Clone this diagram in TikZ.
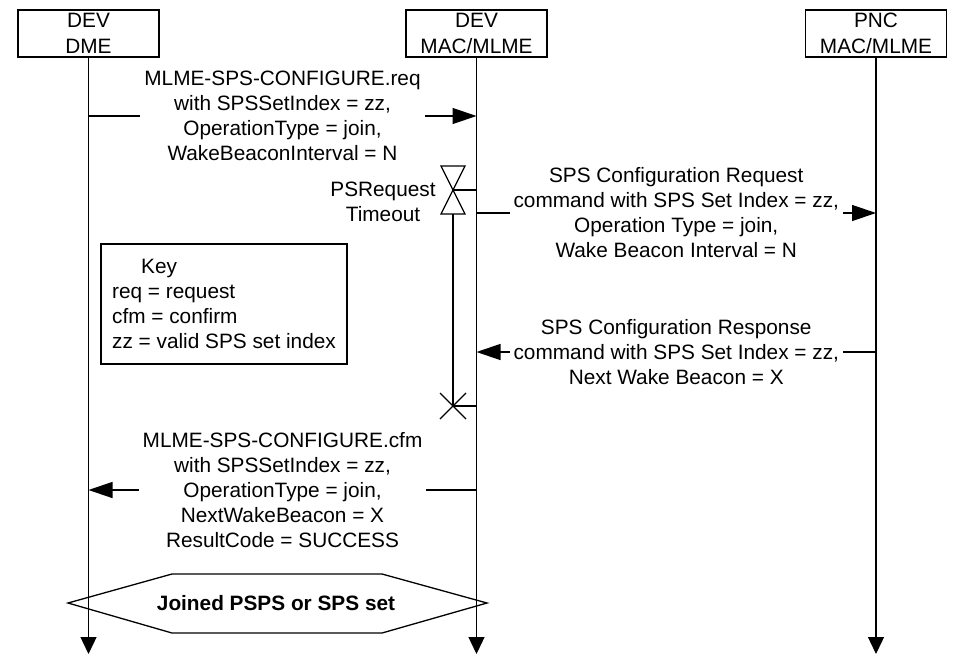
\documentclass[tikz,border=0pt]{standalone}
\usepackage{fontspec}
\setmainfont{Liberation Sans}
\usetikzlibrary{arrows.meta}

\newcommand{\msgfont}{\fontsize{20.8}{25}\selectfont}

\begin{document}
\begin{tikzpicture}[x=1pt,y=-1pt,line width=1.3pt,
    every node/.style={font=\msgfont},
    entity/.style={draw,minimum width=141pt,minimum height=47pt,inner sep=0pt,align=center},
    lifeline/.style={-{Triangle[length=17pt,width=16pt]}},
    msg/.style={-{Triangle[length=24pt,width=16pt]}},
    msglabel/.style={fill=white,align=center,inner xsep=4pt,inner ysep=1pt}]
    \useasboundingbox (0,0) rectangle (955,656);

    % Entities
    \node[entity] (dme)    at (88.5,33.5) {DEV\\[1pt]DME};
    \node[entity] (devmac) at (476.5,33.5) {DEV\\[1pt]MAC/MLME};
    \node[entity] (pnc)    at (876,33.5) {PNC\\[1pt]MAC/MLME};

    % Lifelines
    \coordinate (bottom) at (0,654);
    \draw[lifeline] (dme) -- (dme |- bottom);
    \draw[lifeline] (devmac) -- (devmac |- bottom);
    \draw[lifeline] (pnc) -- (pnc |- bottom);

    % Message rows
    \coordinate (req) at (0,116);
    \coordinate (cmd) at (0,213);
    \coordinate (rsp) at (0,352);
    \coordinate (cfm) at (0,490);

    % MLME request DME -> MAC
    \draw[msg] (dme |- req) -- node[msglabel] {MLME-SPS-CONFIGURE.req\\with SPSSetIndex = zz,\\OperationType = join,\\WakeBeaconInterval = N} (devmac |- req);

    % Configuration request command MAC -> PNC
    \draw[msg] (devmac |- cmd) -- node[msglabel] {SPS Configuration Request\\command with SPS Set Index = zz,\\Operation Type = join,\\Wake Beacon Interval = N} (pnc |- cmd);

    % Configuration response command PNC -> MAC
    \draw[msg] (pnc |- rsp) -- node[msglabel] {SPS Configuration Response\\command with SPS Set Index = zz,\\Next Wake Beacon = X} (devmac |- rsp);

    % MLME confirm MAC -> DME
    \draw[msg] (devmac |- cfm) -- node[msglabel] {MLME-SPS-CONFIGURE.cfm\\with SPSSetIndex = zz,\\OperationType = join,\\NextWakeBeacon = X\\ResultCode = SUCCESS} (dme |- cfm);

    % Timer
    \coordinate (tstart) at (453,190);
    \coordinate (tstop) at (453,406);
    \draw (441,166) -- (465,166) -- (441,214) -- (465,214) -- cycle;
    \draw (tstart) -- (tstart -| devmac);
    \draw (453,214) -- (tstop);
    \draw (440,393) -- (466,419) (440,419) -- (466,393);
    \draw (tstop) -- (tstop -| devmac);
    \node[align=center] (timer) at (383,201.5) {PSRequest\\Timeout};

    % Key
    \node[draw,align=left,minimum width=246pt,minimum height=120pt,inner xsep=0pt] (key) at (224,304)
      {\hspace*{29pt}Key\\req = request\\cfm = confirm\\zz = valid SPS set index};

    % Joined state
    \draw (68,603) -- (172,574) -- (382,574) -- (487,603) -- (382,633) -- (172,633) -- cycle;
    \node[font=\msgfont\bfseries] (joined) at (276,603) {Joined PSPS or SPS set};
\end{tikzpicture}
\end{document}
